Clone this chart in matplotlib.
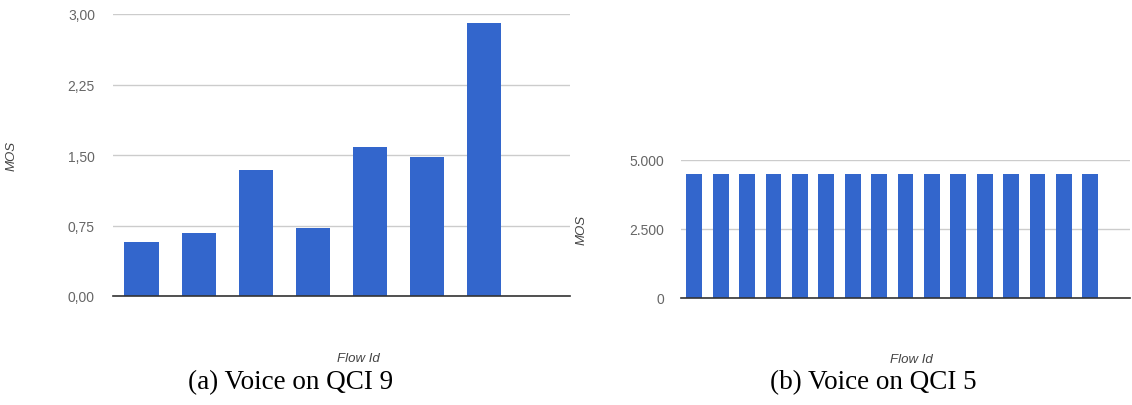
import matplotlib
matplotlib.use("Agg")
import matplotlib.pyplot as plt
from matplotlib.ticker import FuncFormatter

# MOS per flow, voice traffic on QCI 9
flows_qci9 = [1, 2, 3, 4, 5, 6, 7]
mos_qci9 = [0.57, 0.67, 1.34, 0.72, 1.58, 1.48, 2.90]
ticks_qci9 = [0.0, 0.75, 1.5, 2.25, 3.0]

# MOS per flow, voice traffic on QCI 5
flows_qci5 = list(range(1, 17))
mos_qci5 = [4500] * 16
ticks_qci5 = [0, 2500, 5000]

captions = ["(a) Voice on QCI 9", "(b) Voice on QCI 5"]

BAR = "#3366cc"
GRID = "#cccccc"
BASE = "#333333"
TICK = "#666666"
TITLE = "#444444"
SANS = ["Liberation Sans", "DejaVu Sans"]

W, H = 1132, 406
fig = plt.figure(figsize=(W / 100, H / 100), dpi=100)


def box(x0, x1, ytop, ybot):
    return [x0 / W, 1 - ybot / H, (x1 - x0) / W, (ybot - ytop) / H]


def style(ax, ticks, fmt, pad):
    ax.set_yticks(ticks)
    ax.yaxis.set_major_formatter(FuncFormatter(fmt))
    ax.set_ylim(ticks[0], ticks[-1])
    ax.grid(axis="y", color=GRID, linewidth=1)
    ax.set_axisbelow(True)
    for s in ("top", "right", "left"):
        ax.spines[s].set_visible(False)
    ax.spines["bottom"].set_color(BASE)
    ax.spines["bottom"].set_linewidth(1.2)
    ax.set_xticks([])
    ax.tick_params(axis="y", length=0, pad=pad, labelcolor=TICK, labelsize=10)
    for lab in ax.get_yticklabels():
        lab.set_fontfamily(SANS)


def comma_fmt(v, _):
    return f"{v:.2f}".replace(".", ",")


def thousands_fmt(v, _):
    return f"{int(round(v)):,}".replace(",", ".")


# Left panel
ax1 = fig.add_axes(box(113, 570, 15, 297))
ax1.bar([f - 0.5 for f in flows_qci9], mos_qci9, width=0.6, color=BAR)
ax1.set_xlim(0, len(flows_qci9) + 1)
style(ax1, ticks_qci9, comma_fmt, 13)
ax1.set_ylabel("MOS", fontsize=9.5, style="italic", color=TITLE, family=SANS)
ax1.yaxis.set_label_coords(-0.208, 0.5)
ax1.set_xlabel("Flow Id", fontsize=9.5, style="italic", color=TITLE, family=SANS)
ax1.xaxis.set_label_coords(0.536, -0.20)

# Right panel
ax2 = fig.add_axes(box(681, 1130, 161, 299))
ax2.bar([f - 0.5 for f in flows_qci5], mos_qci5, width=0.6, color=BAR)
ax2.set_xlim(0, len(flows_qci5) + 1)
style(ax2, ticks_qci5, thousands_fmt, 12)
ax2.set_ylabel("MOS", fontsize=9.5, style="italic", color=TITLE, family=SANS)
ax2.yaxis.set_label_coords(-0.209, 0.5)
ax2.set_xlabel("Flow Id", fontsize=9.5, style="italic", color=TITLE, family=SANS)
ax2.xaxis.set_label_coords(0.512, -0.40)

# Sub-figure captions
fig.text(291 / W, 1 - 383 / H, captions[0], ha="center", va="center",
         fontsize=19.5, family=["Liberation Serif", "DejaVu Serif"], color="black")
fig.text(873 / W, 1 - 383 / H, captions[1], ha="center", va="center",
         fontsize=19.5, family=["Liberation Serif", "DejaVu Serif"], color="black")

fig.savefig("out.png", dpi=100)
